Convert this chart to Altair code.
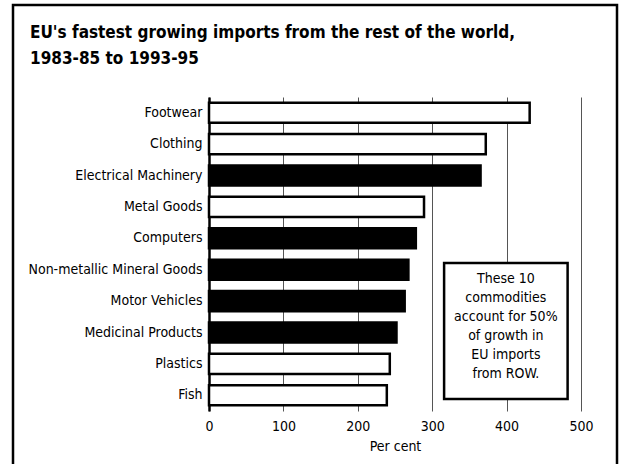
import altair as alt
import pandas as pd

categories = ["Footwear", "Clothing", "Electrical Machinery", "Metal Goods", "Computers",
              "Non-metallic Mineral Goods", "Motor Vehicles", "Medicinal Products", "Plastics", "Fish"]
growth = [431, 372, 365, 289, 278, 268, 263, 252, 243, 239]
shade = ["white", "white", "black", "white", "black", "black", "black", "black", "white", "white"]
note_lines = ["These 10", "commodities", "account for 50%", "of growth in", "EU imports", "from ROW."]
note_x = [316, 482]
x_ticks = [0, 100, 200, 300, 400, 500]

FONT = "'DejaVu Sans Condensed', 'Liberation Sans Narrow', 'Liberation Sans', sans-serif"

df = pd.DataFrame({"cat": categories, "val": growth, "shade": shade})

x_scale = alt.Scale(domain=[0, 500], nice=False)
y_scale = alt.Scale(domain=categories, paddingInner=0.36, paddingOuter=0.18)

frame = alt.Chart(pd.DataFrame({"a": [0]})).mark_rect(
    fill=None, stroke="black", strokeWidth=2.5
).encode(x=alt.value(-196), x2=alt.value(408), y=alt.value(-92), y2=alt.value(380))

bars = alt.Chart(df).mark_bar(stroke="black", strokeWidth=2.5).encode(
    x=alt.X("val:Q", scale=x_scale,
            axis=alt.Axis(values=x_ticks, title="Per cent", grid=True, gridColor="#555555",
                          gridWidth=1, domain=False, ticks=False, labelPadding=8,
                          labelFlush=False,
                          labelFont=FONT, labelFontSize=14, labelColor="black",
                          titleFont=FONT, titleFontSize=14, titleFontWeight="normal",
                          titleColor="black", titlePadding=6)),
    y=alt.Y("cat:N", scale=y_scale, sort=categories,
            axis=alt.Axis(title=None, ticks=False, domain=True, domainColor="black",
                          domainWidth=2.5, labelPadding=7, labelFont=FONT,
                          labelFontSize=14, labelColor="black", labelLimit=300)),
    fill=alt.Fill("shade:N", scale=None, legend=None),
)

box_df = pd.DataFrame({"x1": [note_x[0]], "x2": [note_x[1]]})
box = alt.Chart(box_df).mark_rect(fill="white", stroke="black", strokeWidth=2.5).encode(
    x=alt.X("x1:Q", scale=x_scale), x2="x2:Q", y=alt.value(166), y2=alt.value(302)
)

note_df = pd.DataFrame({"t": ["\n".join(note_lines)], "x": [(note_x[0] + note_x[1]) / 2]})
note = alt.Chart(note_df).mark_text(
    font=FONT, fontSize=14, lineBreak="\n", lineHeight=19, align="center",
    baseline="middle", color="black"
).encode(x=alt.X("x:Q", scale=x_scale), y=alt.value(182), text="t:N")

chart = alt.layer(frame, bars, box, note).properties(
    width=372, height=314,
    autosize=alt.AutoSizeParams(type="none"),
    padding={"left": 209, "top": 97, "right": 40, "bottom": 53},
    background="white",
    title=alt.TitleParams(
        ["EU's fastest growing imports from the rest of the world,", "1983-85 to 1993-95"],
        anchor="start", frame="group", font=FONT, fontSize=17, fontWeight="bold",
        color="black", dx=-179, lineHeight=26, offset=0, baseline="top", dy=64),
).configure_view(stroke=None)

chart.save("out.html", embed_options={"renderer": "svg", "actions": False})
